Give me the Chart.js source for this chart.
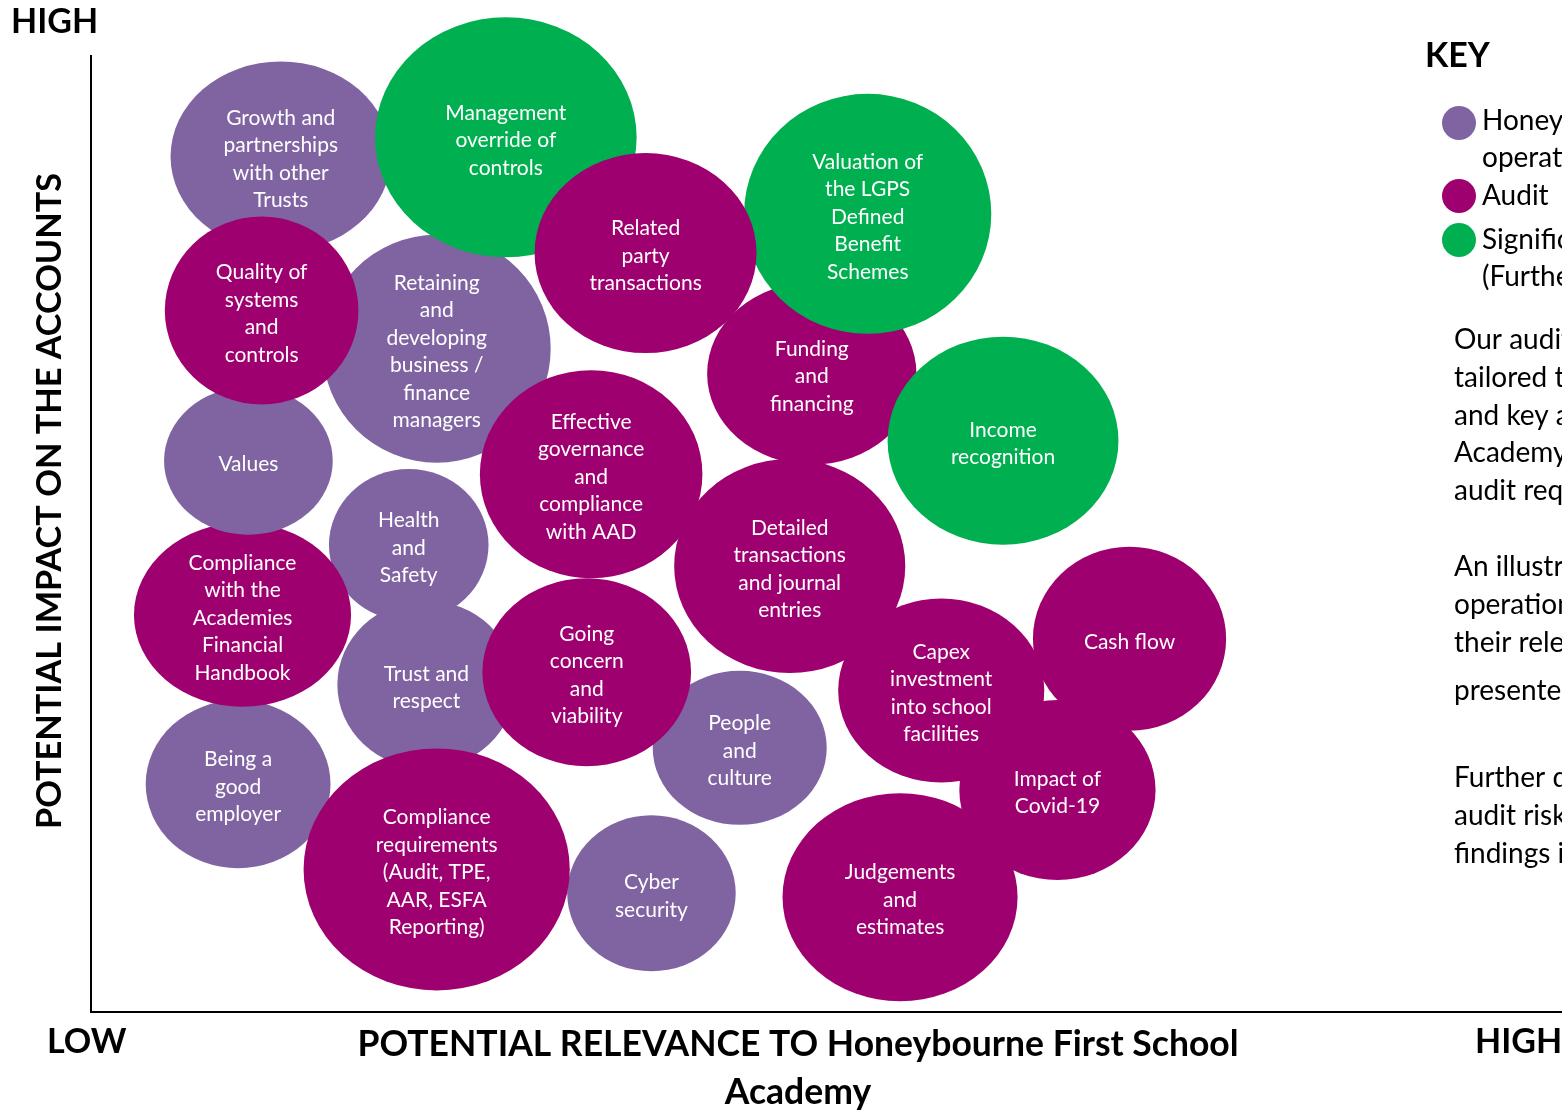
<!DOCTYPE html>
<html>
<head>
<meta charset="utf-8">
<script src="https://cdn.jsdelivr.net/npm/chart.js@4.4.1/dist/chart.umd.min.js"></script>
<style>
  html, body { margin: 0; padding: 0; background: #fff; overflow: hidden; }
  canvas { display: block; }
</style>
</head>
<body>
<canvas id="riskMap" width="1562" height="1111"></canvas>
<script>
// bubbles listed back to front (later ones sit on top)
const topics = [
  'Growth and\npartnerships\nwith other\nTrusts',
  'Retaining\nand\ndeveloping\nbusiness /\nfinance\nmanagers',
  'Health\nand\nSafety',
  'Trust and\nrespect',
  'Being a\ngood\nemployer',
  'People\nand\nculture',
  'Cyber\nsecurity',
  'Compliance\nwith the\nAcademies\nFinancial\nHandbook',
  'Values',
  'Funding\nand\nfinancing',
  'Management\noverride of\ncontrols',
  'Valuation of\nthe LGPS\nDefined\nBenefit\nSchemes',
  'Income\nrecognition',
  'Related\nparty\ntransactions',
  'Quality of\nsystems\nand\ncontrols',
  'Effective\ngovernance\nand\ncompliance\nwith AAD',
  'Detailed\ntransactions\nand journal\nentries',
  'Going\nconcern\nand\nviability',
  'Cash flow',
  'Capex\ninvestment\ninto school\nfacilities',
  'Impact of\nCovid-19',
  'Compliance\nrequirements\n(Audit, TPE,\nAAR, ESFA\nReporting)',
  'Judgements\nand\nestimates'
];
// 0 = operational, 1 = audit, 2 = significant audit risk
const topicGroup = [0, 0, 0, 0, 0, 0, 0, 1, 0, 1, 2, 2, 2, 1, 1, 1, 1, 1, 1, 1, 1, 1, 1];
const relevance  = [12.9, 23.5, 21.6, 22.8, 10.0, 44.1, 38.1, 10.3, 10.7, 49.0, 28.2, 52.8, 62.0, 37.7, 11.6, 34.0, 47.5, 33.7, 70.6, 57.8, 65.7, 23.5, 55.0];
const impact     = [89.4, 69.3, 48.8, 34.2, 23.8, 27.6, 12.4, 41.5, 57.6, 66.7, 91.4, 83.4, 59.7, 79.3, 73.3, 56.2, 46.6, 35.5, 39.0, 33.6, 23.2, 14.9, 12.0];
const weight     = [95, 114, 76, 84, 84, 77, 78, 92, 74, 91, 120, 120, 104, 100, 94, 104, 107, 94, 92, 92, 90, 121, 104];
const spread     = [1.16, 1.0, 1.05, 1.06, 1.10, 1.13, 1.08, 1.18, 1.14, 1.15, 1.09, 1.03, 1.11, 1.11, 1.03, 1.07, 1.08, 1.11, 1.05, 1.12, 1.09, 1.10, 1.13];

const groups = [
  ['Honeybourne First School Academy', 'operational risks'],
  ['Audit'],
  ['Significant audit risks', '(Further details on page 9)']
];
const groupColours = ['#8064a2', '#9e006f', '#00b050'];

const notes = [
  ['Our audit approach has been', 'tailored to reflect the risks', 'and key areas of the', "Academy's operations and our", 'audit requirements.'],
  ['An illustration of the key', 'operational and audit risks and', 'their relevance to the Academy is', 'presented in the chart.'],
  ['Further detail on the significant', 'audit risks and our audit', 'findings is set out overleaf.']
];

const FONT = 'Lato, "Open Sans", sans-serif';

// draws the bubbles as ellipses plus all the labels around the plot
const mapPainter = {
  id: 'mapPainter',
  beforeDatasetsDraw(chart) {
    const ctx = chart.ctx;
    const meta = chart.getDatasetMeta(0);
    meta.data.forEach((pt, i) => {
      const r = pt.options.radius;
      ctx.beginPath();
      ctx.ellipse(pt.x, pt.y, r * spread[i], r, 0, 0, Math.PI * 2);
      ctx.fillStyle = pt.options.backgroundColor;
      ctx.fill();
    });
    return false;
  },
  afterDraw(chart) {
    const ctx = chart.ctx;
    const area = chart.chartArea;
    const meta = chart.getDatasetMeta(0);

    // text inside the bubbles
    ctx.save();
    ctx.fillStyle = '#fff';
    ctx.font = '21px ' + FONT;
    ctx.textAlign = 'center';
    ctx.textBaseline = 'middle';
    meta.data.forEach((pt, i) => {
      const lines = topics[i].split('\n');
      lines.forEach((ln, k) => {
        ctx.fillText(ln, pt.x, pt.y + 3 + (k - (lines.length - 1) / 2) * 27.5);
      });
    });
    ctx.restore();

    // axes
    ctx.save();
    ctx.strokeStyle = '#000';
    ctx.lineWidth = 2;
    ctx.beginPath();
    ctx.moveTo(area.left, area.top);
    ctx.lineTo(area.left, area.bottom);
    ctx.lineTo(area.right, area.bottom);
    ctx.stroke();

    ctx.fillStyle = '#000';
    ctx.textBaseline = 'middle';
    ctx.font = 'bold 34px ' + FONT;
    ctx.textAlign = 'left';
    ctx.fillText('HIGH', 11, 22);
    ctx.fillText('LOW', 47, 1042);
    ctx.fillText('HIGH', 1475, 1042);
    ctx.fillText('KEY', 1425, 56);

    ctx.font = 'bold 35.5px ' + FONT;
    ctx.textAlign = 'center';
    ctx.fillText('POTENTIAL RELEVANCE TO Honeybourne First School', 798, 1045);
    ctx.fillText('Academy', 798, 1093);

    ctx.font = 'bold 34.3px ' + FONT;
    ctx.save();
    ctx.translate(50, 501);
    ctx.rotate(-Math.PI / 2);
    ctx.fillText('POTENTIAL IMPACT ON THE ACCOUNTS', 0, 0);
    ctx.restore();

    // key
    ctx.textAlign = 'left';
    ctx.font = '28px ' + FONT;
    const dotY = [123, 196, 240];
    const keyRows = [[121, 158], [196], [240, 277]];
    groups.forEach((g, i) => {
      ctx.beginPath();
      ctx.arc(1459, dotY[i], 17, 0, Math.PI * 2);
      ctx.fillStyle = groupColours[i];
      ctx.fill();
      ctx.fillStyle = '#000';
      g.forEach((ln, k) => ctx.fillText(ln, 1482, keyRows[i][k]));
    });

    const noteRows = [[340, 378, 416, 453, 491], [567, 605, 643, 691], [778, 816, 854]];
    notes.forEach((para, i) => {
      para.forEach((ln, k) => ctx.fillText(ln, 1454, noteRows[i][k]));
    });
    ctx.restore();
  }
};

const points = relevance.map((x, i) => ({ x: x, y: impact[i], r: weight[i] }));

new Chart(document.getElementById('riskMap'), {
  type: 'bubble',
  data: {
    datasets: [{
      data: points,
      backgroundColor: topicGroup.map(g => groupColours[g]),
      borderWidth: 0,
      clip: false
    }]
  },
  options: {
    responsive: false,
    animation: false,
    devicePixelRatio: 1,
    layout: { autoPadding: false, padding: { left: 91, top: 55, right: 0, bottom: 99 } },
    scales: {
      x: { type: 'linear', min: 0, max: 100, display: false },
      y: { type: 'linear', min: 0, max: 100, display: false }
    },
    plugins: {
      legend: { display: false },
      tooltip: { enabled: false }
    }
  },
  plugins: [mapPainter]
});
</script>
</body>
</html>
